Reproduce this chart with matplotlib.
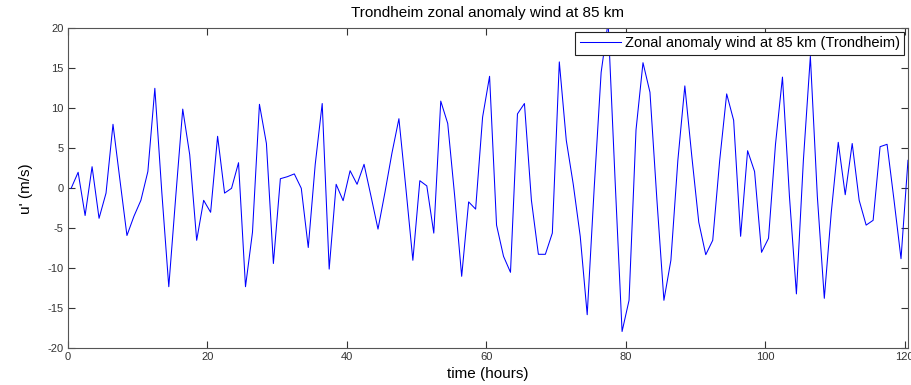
import numpy as np
import matplotlib
matplotlib.use("Agg")
import matplotlib.pyplot as plt

# Hourly zonal wind anomaly at 85 km over Trondheim (m/s), sampled at half-past each hour
hours = np.arange(121) + 0.5
u_anom = [
    0.0, 2.0, -3.4, 2.7, -3.75, -0.6, 8.0, 1.0, -5.9, -3.5,
    -1.5, 2.1, 12.5, -0.5, -12.3, -1.0, 9.9, 4.2, -6.5, -1.5,
    -3.0, 6.5, -0.6, 0.0, 3.2, -12.3, -5.5, 10.5, 5.6, -9.4,
    1.2, 1.45, 1.8, 0.0, -7.4, 3.0, 10.6, -10.1, 0.5, -1.55,
    2.2, 0.5, 3.0, -1.0, -5.1, -0.5, 4.4, 8.7, 0.0, -9.0,
    0.95, 0.3, -5.6, 10.9, 8.1, -1.0, -11.0, -1.7, -2.6, 8.9,
    14.0, -4.6, -8.5, -10.5, 9.3, 10.6, -1.5, -8.25, -8.25, -5.6,
    15.8, 6.0, 0.5, -6.0, -15.8, 0.0, 14.5, 20.8, 1.0, -17.9,
    -14.0, 7.3, 15.7, 12.0, -1.5, -14.0, -9.0, 3.5, 12.8, 4.0,
    -4.25, -8.3, -6.5, 3.5, 11.8, 8.5, -6.0, 4.7, 2.1, -8.0,
    -6.25, 5.5, 13.9, -1.0, -13.2, 3.5, 16.5, -1.0, -13.75, -3.0,
    5.75, -0.8, 5.6, -1.5, -4.6, -4.0, 5.2, 5.5, -1.5, -8.8,
    3.5,
]
x_ticks = [0, 20, 40, 60, 80, 100, 120]
y_ticks = [-20, -15, -10, -5, 0, 5, 10, 15, 20]

plt.rcParams['font.family'] = ['Liberation Sans', 'DejaVu Sans']
plt.rcParams['axes.unicode_minus'] = False

fig = plt.figure(figsize=(9.12, 3.85), dpi=100)
ax = fig.add_axes([0.0742, 0.0953, 0.9214, 0.8312])

ax.plot(hours, u_anom, color='#0000ff', lw=0.75,
        label='Zonal anomaly wind at 85 km (Trondheim)')

ax.set_xlim(0, 120.5)
ax.set_ylim(-20, 20)
ax.set_xticks(x_ticks)
ax.set_yticks(y_ticks)
ax.tick_params(direction='in', length=5, width=0.8, colors='#333333',
               labelsize=8, top=True, right=True, pad=3)
for sp in ax.spines.values():
    sp.set_color('#555555')
    sp.set_linewidth(0.8)

ax.set_title('Trondheim zonal anomaly wind at 85 km', fontsize=11, pad=8)
ax.set_xlabel('time (hours)', fontsize=11, labelpad=3)
ax.set_ylabel("u' (m/s)", fontsize=11, labelpad=10)

leg = ax.legend(loc='upper right', fontsize=10.5, fancybox=False,
                framealpha=1, edgecolor='#222222', borderpad=0.3,
                handlelength=2.8, handletextpad=0.3,
                borderaxespad=0.25)
leg.get_frame().set_linewidth(0.8)

fig.savefig('out.png', dpi=100)
